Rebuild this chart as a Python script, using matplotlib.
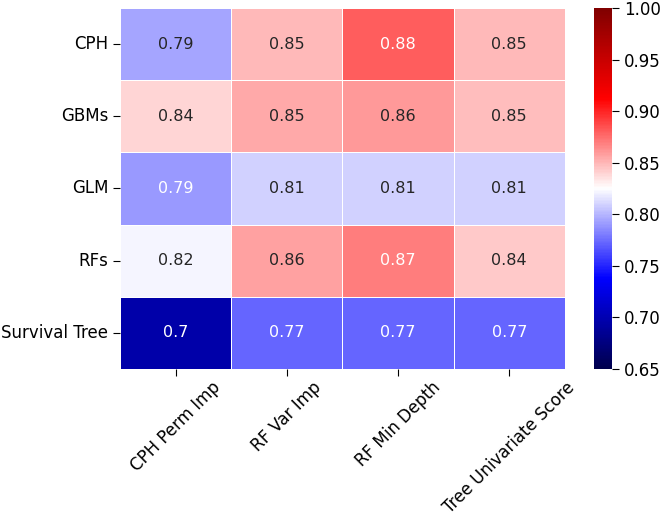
import numpy as np
import matplotlib
matplotlib.use("Agg")
import matplotlib.pyplot as plt
import seaborn as sns

# ===================== data =====================
methods = ["CPH Perm Imp", "RF Var Imp", "RF Min Depth", "Tree Univariate Score"]
models = ["CPH", "GBMs", "GLM", "RFs", "Survival Tree"]

cph = [0.794, 0.8486, 0.880, 0.849]
gbms = [0.840, 0.854, 0.860, 0.8478]
glm = [0.790, 0.809, 0.809, 0.809]
rfs = [0.8215, 0.857, 0.869, 0.844]
surv_tree = [0.696, 0.7725, 0.7725, 0.7725]

scores = np.array([cph, gbms, glm, rfs, surv_tree])
cbar_ticks = [0.65, 0.70, 0.75, 0.80, 0.85, 0.90, 0.95, 1.00]

# ===================== plot =====================
fig = plt.figure(figsize=(6.62, 5.16), dpi=100)
ax = fig.add_axes([0.1813, 0.285, 0.672, 0.6996])
cax = fig.add_axes([0.897, 0.285, 0.028, 0.6996])

sns.heatmap(scores, ax=ax, cbar_ax=cax, cmap="seismic", vmin=0.65, vmax=1.0,
            annot=True, linewidths=0.5, linecolor="white",
            xticklabels=methods, yticklabels=models,
            annot_kws={"fontsize": 11.5})

ax.tick_params(labelsize=12, length=5)
ax.tick_params(axis="x", pad=2)
plt.setp(ax.get_xticklabels(), rotation=45, ha="center", rotation_mode="default")
plt.setp(ax.get_yticklabels(), rotation=0)

cbar = ax.collections[0].colorbar
cbar.set_ticks(cbar_ticks)
cbar.ax.set_yticklabels([f"{t:.2f}" for t in cbar_ticks])
cbar.ax.tick_params(labelsize=12, length=5)
cbar.outline.set_visible(False)

fig.savefig("out.png", dpi=100)
